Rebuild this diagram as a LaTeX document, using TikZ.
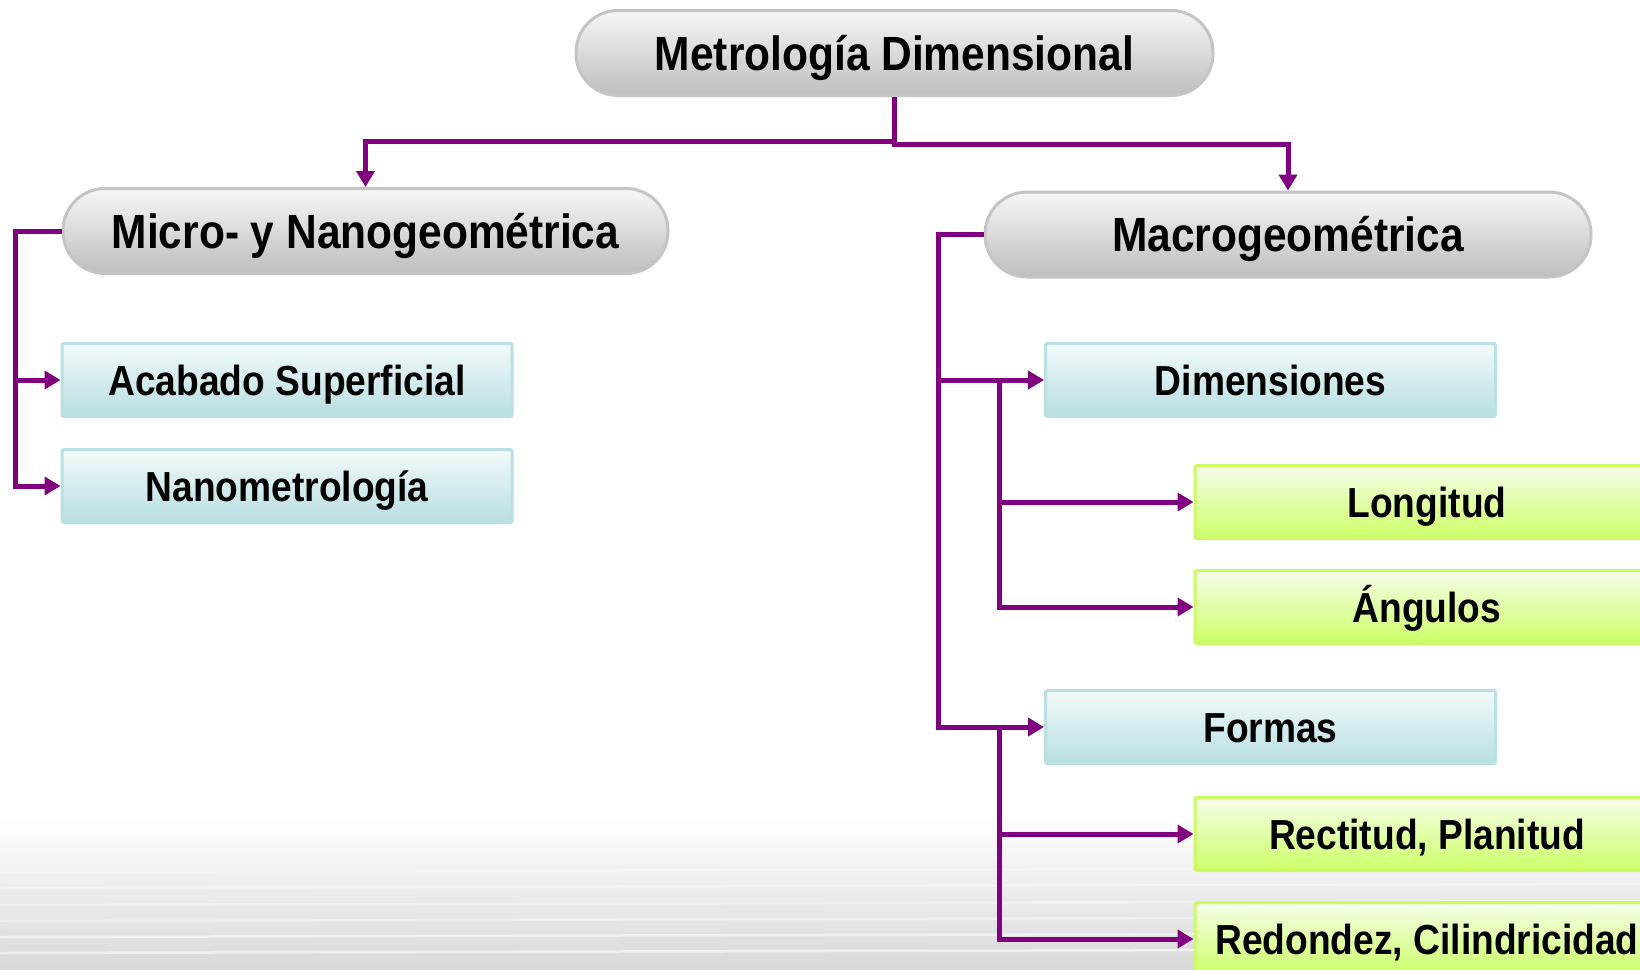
\documentclass[tikz,border=0pt]{standalone}
\usepackage{fontspec}
\setmainfont{Liberation Sans}[FakeStretch=0.885]
\usetikzlibrary{arrows.meta}
\definecolor{conn}{HTML}{800080}
\definecolor{pilltop}{HTML}{F6F6F6}
\definecolor{pillbot}{HTML}{BEBEBE}
\definecolor{pillline}{HTML}{C4C4C4}
\definecolor{bluetop}{HTML}{F3FAFA}
\definecolor{bluebot}{HTML}{B7DEE2}
\definecolor{blueline}{HTML}{B9E0E3}
\definecolor{greentop}{HTML}{F6FDE9}
\definecolor{greenbot}{HTML}{CCFF66}
\definecolor{greenline}{HTML}{CCFA66}
\tikzset{
  pill/.style={draw=pillline, line width=3pt, top color=pilltop, bottom color=pillbot,
    rounded corners=42pt, minimum height=85pt, inner sep=0pt,
    text height=34.5pt, text depth=0pt,
    font=\fontsize{48pt}{56pt}\selectfont\bfseries},
  bluebox/.style={draw=blueline, line width=3pt, top color=bluetop, bottom color=bluebot,
    rounded corners=2pt, minimum width=450pt, minimum height=73pt, inner sep=0pt,
    text height=30pt, text depth=0pt,
    font=\fontsize{42pt}{50pt}\selectfont\bfseries},
  greenbox/.style={draw=greenline, line width=3pt, top color=greentop, bottom color=greenbot,
    rounded corners=2pt, minimum width=464pt, minimum height=73pt, inner sep=0pt,
    text height=30pt, text depth=0pt,
    font=\fontsize{42pt}{50pt}\selectfont\bfseries},
  link/.style={draw=conn, line width=5pt},
  tip/.style={-{Triangle[length=16pt,width=18pt]}}
}
\begin{document}
\begin{tikzpicture}[x=1pt,y=-1pt]
\useasboundingbox (0,0) rectangle (1640,969);
\clip (0,0) rectangle (1640,969);
\fill[white] (0,0) rectangle (1640,969);
\shade[top color=white, bottom color=gray!30] (0,815) rectangle (1640,969);
\foreach \yy/\op in {872/0.25,888/0.3,905/0.35,921/0.4,937/0.5,953/0.55} {
  \draw[white, opacity=\op, line width=2.5pt] (0,\yy) -- (1640,\yy-4);
}

% nodes
\node[pill, minimum width=637pt] (top) at (894.5,53) {Metrología Dimensional};
\node[pill, minimum width=605pt] (micro) at (365.5,231) {Micro- y Nanogeométrica};
\node[pill, minimum width=606pt] (macro) at (1288,234.5) {Macrogeométrica};

\node[bluebox] (acab) at (287,380) {Acabado Superficial};
\node[bluebox] (nano) at (287,486) {Nanometrología};
\node[bluebox] (dim) at (1270.5,380) {Dimensiones};
\node[bluebox] (formas) at (1270.5,727) {Formas};

\node[greenbox] (long) at (1427,502) {Longitud};
\node[greenbox] (ang) at (1427,607) {Ángulos};
\node[greenbox] (rect) at (1427,834) {Rectitud, Planitud};
\node[greenbox] (redo) at (1427,939) {Redondez, Cilindricidad};

% connectors
\draw[link, tip] (top.south) -- ++(0,44) -| (micro.north);
\draw[link, tip] (top.south) -- ++(0,47) -| (macro.north);

\coordinate (lbus) at (15,231);
\draw[link, tip] (micro.west) -- (lbus) |- (nano.west);
\draw[link, tip] (lbus |- acab.west) -- (acab.west);

\coordinate (rbus) at (938,234.5);
\draw[link, tip] (macro.west) -- (rbus) |- (formas.west);
\draw[link, tip] (rbus |- dim.west) -- (dim.west);

\coordinate (ib1) at (999,380);
\draw[link, tip] (ib1) |- (ang.west);
\draw[link, tip] (ib1 |- long.west) -- (long.west);

\coordinate (ib2) at (999,727);
\draw[link, tip] (ib2) |- (redo.west);
\draw[link, tip] (ib2 |- rect.west) -- (rect.west);
\end{tikzpicture}
\end{document}
